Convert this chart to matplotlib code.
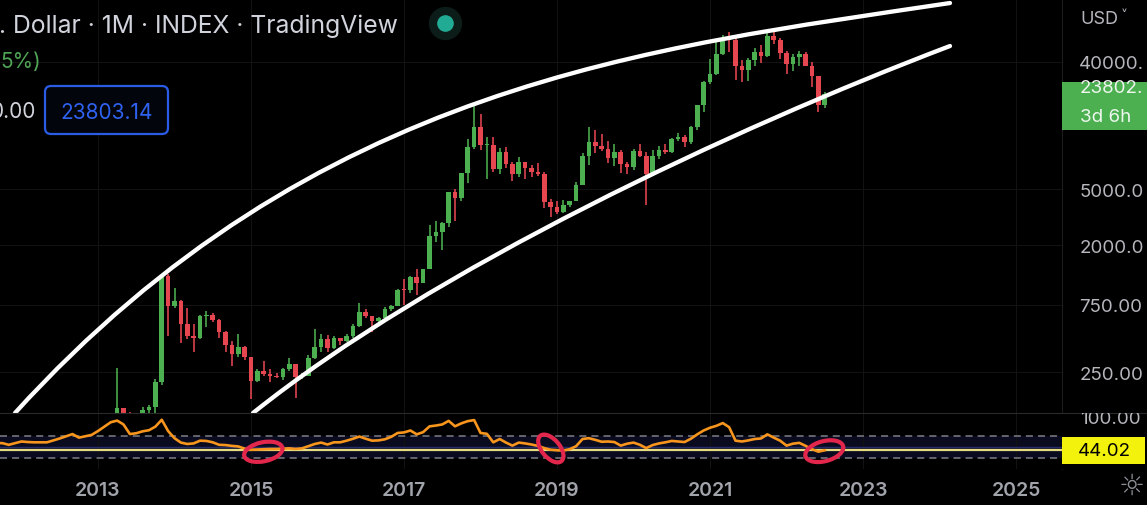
import numpy as np
import pandas as pd
import matplotlib
matplotlib.use("Agg")
import matplotlib.pyplot as plt
from matplotlib.path import Path
from matplotlib.patches import PathPatch, Ellipse, Rectangle, FancyBboxPatch
from matplotlib.transforms import ScaledTranslation, Affine2D
from matplotlib.lines import Line2D
from matplotlib.ticker import NullLocator

plt.rcParams['font.family'] = ['Inter', 'DejaVu Sans']

# ---------------- data ----------------
candle_start = "2013-01"
opens = [
    13.5, 20.4, 33.4, 93, 139, 129, 97, 106, 135, 141, 211, 1205,
    735, 805, 550, 452, 440, 628, 640, 585, 480, 387, 338, 375,
    320, 217, 254, 244, 236, 230, 263, 284, 230, 236, 314, 377,
    430, 368, 437, 416, 448, 531, 673, 624, 575, 609, 700, 742,
    964, 960, 1190, 1080, 1350, 2300, 2480, 2875, 4735, 4340, 6450, 9950,
    13880, 10220, 10330, 6925, 9240, 7500, 6390, 7730, 7010, 6625, 6370, 4040,
    3740, 3460, 3830, 4100, 5320, 8570, 10820, 10080, 9600, 8290, 9150, 7550,
    7190, 9350, 8540, 6420, 8630, 9450, 9140, 11350, 11660, 10780, 13800, 19700,
    28990, 33110, 45240, 58800, 57750, 37300, 35040, 41460, 47100, 43800, 61300, 57000,
    46300, 38480, 43190, 45530, 37700, 31800, 19930]
highs = [
    20.7, 33.5, 95.7, 266, 140, 129.5, 112, 142, 146, 225, 1242, 1240,
    987, 810, 710, 550, 633, 684, 660, 600, 490, 414, 470, 384,
    320, 265, 300, 262, 247, 268, 313, 285, 245, 330, 502, 465,
    462, 448, 440, 467, 550, 780, 704, 626, 618, 720, 755, 975,
    1150, 1200, 1350, 1350, 2760, 2980, 2920, 4760, 4980, 6470, 11400, 19700,
    17200, 11800, 11700, 9760, 10000, 7760, 8500, 7760, 7400, 7680, 6600, 4240,
    4140, 4200, 4120, 5640, 9080, 13880, 13140, 12330, 10950, 10370, 9510, 7750,
    9580, 10500, 9190, 9460, 10070, 10380, 11450, 12480, 12070, 14100, 19860, 29300,
    41950, 58350, 61790, 64900, 59600, 41300, 42400, 50500, 52900, 67000, 69000, 59100,
    47990, 45800, 48200, 47450, 40000, 31990, 24280]
lows = [
    13.2, 19.1, 33.0, 50, 79, 83, 63, 100, 120, 103, 203, 452,
    715, 401, 430, 346, 430, 520, 570, 440, 350, 278, 320, 306,
    160, 212, 236, 214, 226, 218, 253, 163, 225, 236, 309, 350,
    350, 365, 392, 412, 435, 520, 606, 480, 570, 603, 680, 740,
    752, 915, 890, 1070, 1350, 2100, 1830, 2670, 2970, 4110, 5550, 9700,
    9400, 5900, 6600, 6430, 7060, 5750, 6110, 5880, 6110, 6200, 3650, 3160,
    3350, 3400, 3700, 4080, 5320, 7460, 9080, 9350, 7710, 7300, 6520, 6430,
    6860, 8450, 3850, 6150, 8110, 8900, 8960, 10930, 9880, 10380, 13220, 17600,
    28130, 32300, 45000, 47000, 30000, 28800, 29300, 37300, 39600, 43300, 53300, 42000,
    32900, 34300, 37200, 37600, 26700, 17600, 18800]
closes = [
    20.4, 33.4, 93, 139, 129, 97, 106, 135, 141, 211, 1205, 735,
    805, 550, 452, 440, 628, 640, 585, 480, 387, 338, 375, 320,
    217, 254, 244, 236, 230, 263, 284, 230, 236, 314, 377, 430,
    368, 437, 416, 448, 531, 673, 624, 575, 609, 700, 742, 964,
    960, 1190, 1080, 1350, 2300, 2480, 2875, 4735, 4340, 6450, 9950, 13880,
    10220, 10330, 6925, 9240, 7500, 6390, 7730, 7010, 6625, 6370, 4040, 3740,
    3460, 3830, 4100, 5320, 8570, 10820, 10080, 9600, 8290, 9150, 7550, 7190,
    9350, 8540, 6420, 8630, 9450, 9140, 11350, 11660, 10780, 13800, 19700, 28990,
    33110, 45240, 58800, 57750, 37300, 35040, 41460, 47100, 43800, 61300, 57000, 46300,
    38480, 43190, 45530, 37700, 31800, 19930, 23803]

rsi_start = "2011-09"
rsi_values = [
    57, 57, 54, 57,
    60, 59, 58.5, 58.5, 58.5, 62, 65.5, 69.5, 73.5, 67, 69.5, 72,
    79, 87, 95, 98, 91, 73.5, 75, 78.5, 80.5, 87, 99.5, 79,
    66, 58, 55.5, 56.5, 61.5, 61, 58.5, 54, 53.5, 52, 51, 47,
    45, 45.5, 46, 46.4, 46.4, 47, 47.6, 46.5, 47.5, 51.5, 55.5, 58,
    54.5, 58.5, 58.5, 61.5, 65, 69, 65, 61.5, 62, 64, 68.5, 75.5,
    76.5, 80, 73, 77, 87.5, 89, 91, 97.5, 87.6, 93, 97, 99,
    75.5, 74, 58.5, 64.5, 58, 52.5, 58, 56.5, 54.5, 52, 48, 45,
    44, 43.5, 46, 51.5, 64.5, 66, 63, 59.5, 60, 59, 52.5, 56,
    58, 54, 48, 53.5, 56.5, 58.5, 61, 60, 59, 65, 73, 80,
    85, 88.5, 93.5, 86, 61.5, 60, 62, 64.5, 65.5, 73, 67, 61.5,
    52.5, 56, 57.5, 52, 46, 41.5, 44.02]

# hand-drawn channel curves (Bezier control points: decimal year, price)
upper_curve_years = [2011.915, 2015.837, 2020.216, 2024.137]
upper_curve_prices = [128, 28360, 50300, 105000]
lower_curve_years = [2015.026, 2017.379, 2021.261, 2024.137]
lower_curve_prices = [128, 1351, 13225, 51960]

# hand-drawn red circles on the RSI pane (centre: decimal year, RSI)
circle_years = [2015.161, 2018.919, 2022.494]
circle_rsi = [41.3, 47.3, 42.4]

price_ticks = [40000, 5000, 2000, 750, 250]
price_tick_labels = ["40000.", "5000.0", "2000.0", "750.00", "250.00"]
year_ticks = [2013, 2015, 2017, 2019, 2021, 2023, 2025]
year_labels = ["2013", "2015", "2017", "2019", "2021", "2023", "2025"]
rsi_upper, rsi_mid, rsi_lower = 70, 50, 30
last_price_label = "23802."
last_rsi = 44.02

# ---------------- style / layout ----------------
W, H, DPI = 1147, 506, 100
GREEN = '#4caf50'
RED = '#e5464f'
ORANGE = '#f7951d'
LABEL = '#b5b7bd'
XMIN, XMAX = 2011.719, 2025.601
PMIN, PMAX = 128.0, 112150.0
RMIN, RMAX = 10.0, 111.8
CHART_R, MAIN_B, RSI_B = 1062, 414, 470

fig = plt.figure(figsize=(W / DPI, H / DPI), dpi=DPI, facecolor='black')
# pixel transform (origin top-left)
T = Affine2D().scale(1, -1).translate(0, H).scale(1 / DPI) + fig.dpi_scale_trans

ax = fig.add_axes([0, 1 - MAIN_B / H, CHART_R / W, MAIN_B / H])
ax_r = fig.add_axes([0, 1 - RSI_B / H, CHART_R / W, (RSI_B - MAIN_B) / H])
ax_rs = fig.add_axes([CHART_R / W, 1 - RSI_B / H, 1 - CHART_R / W, (RSI_B - MAIN_B) / H])

for a in (ax, ax_r, ax_rs):
    a.set_facecolor('black')
    for s in a.spines.values():
        s.set_visible(False)

# ---------------- main price pane ----------------
ax.set_yscale('log')
months = pd.period_range(candle_start, periods=len(closes), freq='M')
cx = np.array([p.year + (p.month - 1) / 12 for p in months])
o = np.array(opens, float); h = np.array(highs, float)
l = np.array(lows, float); c = np.array(closes, float)
colors = np.where(c >= o, GREEN, RED)
ax.vlines(cx, l, h, colors=colors, lw=1.15, zorder=3)
bb = np.minimum(o, c)
bt = np.maximum(np.maximum(o, c), bb * 1.017)
ax.bar(cx, bt - bb, bottom=bb, width=0.74 / 12, color=colors, linewidth=0, zorder=4)

codes = [Path.MOVETO, Path.CURVE4, Path.CURVE4, Path.CURVE4]
for yrs, prs in [(upper_curve_years, upper_curve_prices), (lower_curve_years, lower_curve_prices)]:
    pth = Path(np.column_stack([yrs, prs]), codes)
    ax.add_patch(PathPatch(pth, fill=False, ec='white', lw=3.1, capstyle='round', zorder=6))

ax.set_xlim(XMIN, XMAX)
ax.set_ylim(PMIN, PMAX)
ax.set_xticks(year_ticks)
ax.set_yticks(price_ticks, labels=price_tick_labels)
ax.yaxis.set_minor_locator(NullLocator())
ax.tick_params(axis='x', length=0, labelbottom=False)
ax.tick_params(axis='y', length=0, left=False, right=False, labelleft=False, labelright=True,
               pad=12.5, labelsize=13.5, labelcolor=LABEL)
ax.grid(True, color='#121212', lw=0.8)
ax.set_axisbelow(True)
ax.spines['right'].set_visible(True)
ax.spines['right'].set_color('#1c1c1c')

# ---------------- RSI pane ----------------
rmonths = pd.period_range(rsi_start, periods=len(rsi_values), freq='M')
rx = np.array([p.year + (p.month - 1) / 12 for p in rmonths])
ax_r.set_xlim(XMIN, XMAX)
ax_r.set_ylim(RMIN, RMAX)
ax_r.axhspan(rsi_lower, rsi_upper, color='#0b0b1f', lw=0, zorder=0)
for lv in (rsi_upper, rsi_lower):
    ax_r.axhline(lv, color='#7d7f86', lw=1.1, ls=(0, (4.6, 3.3)), zorder=1)
ax_r.axhline(rsi_mid, color='#262b6a', lw=1.0, zorder=1)
ax_r.axhline(last_rsi, color='#e8dc82', lw=1.6, zorder=2)
ax_r.plot(rx, rsi_values, color=ORANGE, lw=1.9, solid_joinstyle='round', zorder=5)
ax_r.set_xticks(year_ticks, labels=year_labels)
ax_r.set_yticks([])
ax_r.tick_params(axis='x', length=0, pad=8.5, labelsize=14, labelcolor='#a1a4ab')
for t in ax_r.get_xticklabels():
    t.set_fontweight('semibold')
ax_r.grid(True, axis='x', color='#121212', lw=0.8)
ax_r.set_axisbelow(True)
ax_r.spines['top'].set_visible(True)
ax_r.spines['top'].set_color('#2a2a2a')
ax_r.spines['right'].set_visible(True)
ax_r.spines['right'].set_color('#1c1c1c')

circle_w = [39, 33, 39]
circle_h = [19, 18, 20]
circle_ang = [12, -50, 15]
for yr, rv, w_, h_, ang in zip(circle_years, circle_rsi, circle_w, circle_h, circle_ang):
    tr = fig.dpi_scale_trans + ScaledTranslation(yr, rv, ax_r.transData)
    e = Ellipse((0, 0), w_ / DPI, h_ / DPI, angle=ang, fill=False, ec='#e3264c', lw=3.0,
                transform=tr, zorder=8)
    ax_r.add_artist(e)

# RSI scale column
ax_rs.set_ylim(RMIN, RMAX)
ax_rs.set_xlim(0, 1)
ax_rs.set_xticks([]); ax_rs.set_yticks([])
ax_rs.spines['top'].set_visible(True)
ax_rs.spines['top'].set_color('#2a2a2a')
ax_rs.text(0.21, 102, "100.00", fontsize=13.5, color=LABEL, va='center', ha='left', clip_on=True)

# ---------------- UI chrome ----------------
fig.text(-1, 33, ". Dollar · 1M · INDEX · TradingView", transform=T, fontsize=17.8,
         color='#d1d4dc', va='baseline', ha='left')
fig.add_artist(Line2D([445], [24], marker='o', ms=24, mfc='#0c1c18', mec='none', transform=T))
fig.add_artist(Line2D([445], [24], marker='o', ms=12, mfc='#22ab94', mec='none', transform=T))
fig.text(0, 68, "5%)", transform=T, fontsize=15, color='#4fa457', va='baseline', ha='left')
fig.text(-9, 118.5, "0.00", transform=T, fontsize=15, color='#d1d4dc', va='baseline', ha='left')
fig.add_artist(FancyBboxPatch((45, 87), 123, 48, boxstyle='round,pad=0,rounding_size=6',
                              transform=T, ec='#2b5ce6', fc='#03050c', lw=1.6))
fig.text(106.5, 119, "23803.14", transform=T, fontsize=15, color='#2f62f0', va='baseline', ha='center')

# right price scale decorations
fig.text(1080, 20, "USD", transform=T, fontsize=13, color=LABEL, va='center', ha='left')
fig.text(1121, 16, "˅", transform=T, fontsize=10, color=LABEL, va='center', ha='left',
         family=['DejaVu Sans'])
fig.add_artist(Rectangle((1062, 83), 85, 48, transform=T, fc='#4caf50', ec='none'))
fig.text(1080, 89, last_price_label, transform=T, fontsize=13.5, color='#eef7ee', va='center', ha='left')
fig.text(1080, 118, "3d 6h", transform=T, fontsize=13.5, color='#eef7ee', va='center', ha='left')
fig.add_artist(Rectangle((1062, 438), 83, 27, transform=T, fc='#f2f20c', ec='none'))
fig.text(1104, 452, f"{last_rsi:.2f}", transform=T, fontsize=13.5, color='black', va='center', ha='center')
fig.text(1132, 487, "☼", transform=T, fontsize=21, color='#8c8f96', va='center', ha='center',
         family=['DejaVu Sans'])

fig.savefig("out.png", dpi=DPI, facecolor='black')
